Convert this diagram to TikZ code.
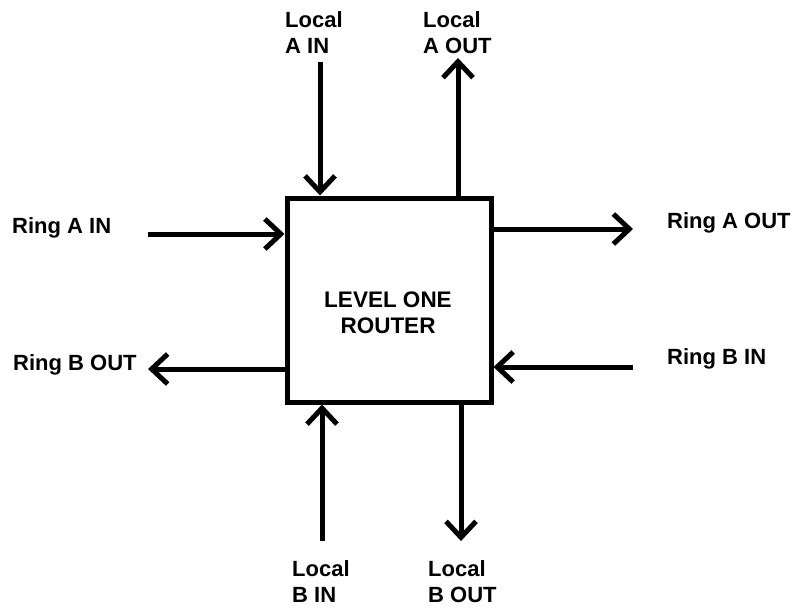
\documentclass[tikz,border=0pt]{standalone}
\usepackage{fontspec}
\setmainfont{Liberation Sans}
\usetikzlibrary{arrows.meta}
\begin{document}
\begin{tikzpicture}[x=1pt,y=-1pt,
  lbl/.style={font=\bfseries\fontsize{22}{26}\selectfont, inner sep=0pt, align=left, anchor=base west},
  flow/.style={line width=5pt, -{Straight Barb[length=16pt,width=30pt,line width=5pt]}},
  routerbox/.style={draw, line width=5pt, minimum width=204pt, minimum height=204pt, inner sep=0pt},
  routertext/.style={font=\bfseries\fontsize{22.5}{26}\selectfont, inner sep=0pt, align=center, anchor=base}]
\useasboundingbox (0,0) rectangle (794,608);

% central router and its title (base anchor = baseline of the last line)
\node[routerbox] (box) at (389,300) {};
\node[routertext] (boxtitle) at (388,333) {LEVEL ONE\\ROUTER};

% free ends of the connectors
\coordinate (ainT)  at (320,62);
\coordinate (aoutT) at (458,58);
\coordinate (rainL) at (148,234);
\coordinate (raoR)  at (633,229);
\coordinate (rbinR) at (633,367);
\coordinate (rboL)  at (148,369);
\coordinate (binB)  at (322,541);
\coordinate (boutB) at (461,541);

% connectors
\draw[flow] (ainT) -- (ainT |- box.north);
\draw[flow] (aoutT |- box.north) -- (aoutT);
\draw[flow] (rainL) -- (rainL -| box.west);
\draw[flow] (raoR -| box.east) -- (raoR);
\draw[flow] (rbinR) -- (rbinR -| box.east);
\draw[flow] (rboL -| box.west) -- (rboL);
\draw[flow] (binB) -- (binB |- box.south);
\draw[flow] (boutB |- box.south) -- (boutB);

% labels
\node[lbl] (lain)  at (285,53)  {Local\\A IN};
\node[lbl] (laout) at (423,53)  {Local\\A OUT};
\node[lbl] (rain)  at (12,233)  {Ring A IN};
\node[lbl] (raout) at (667,228) {Ring A OUT};
\node[lbl] (rbin)  at (667,364) {Ring B IN};
\node[lbl] (rbout) at (13,370)  {Ring B OUT};
\node[lbl] (lbin)  at (292,602) {Local\\B IN};
\node[lbl] (lbout) at (428,602) {Local\\B OUT};
\end{tikzpicture}
\end{document}
